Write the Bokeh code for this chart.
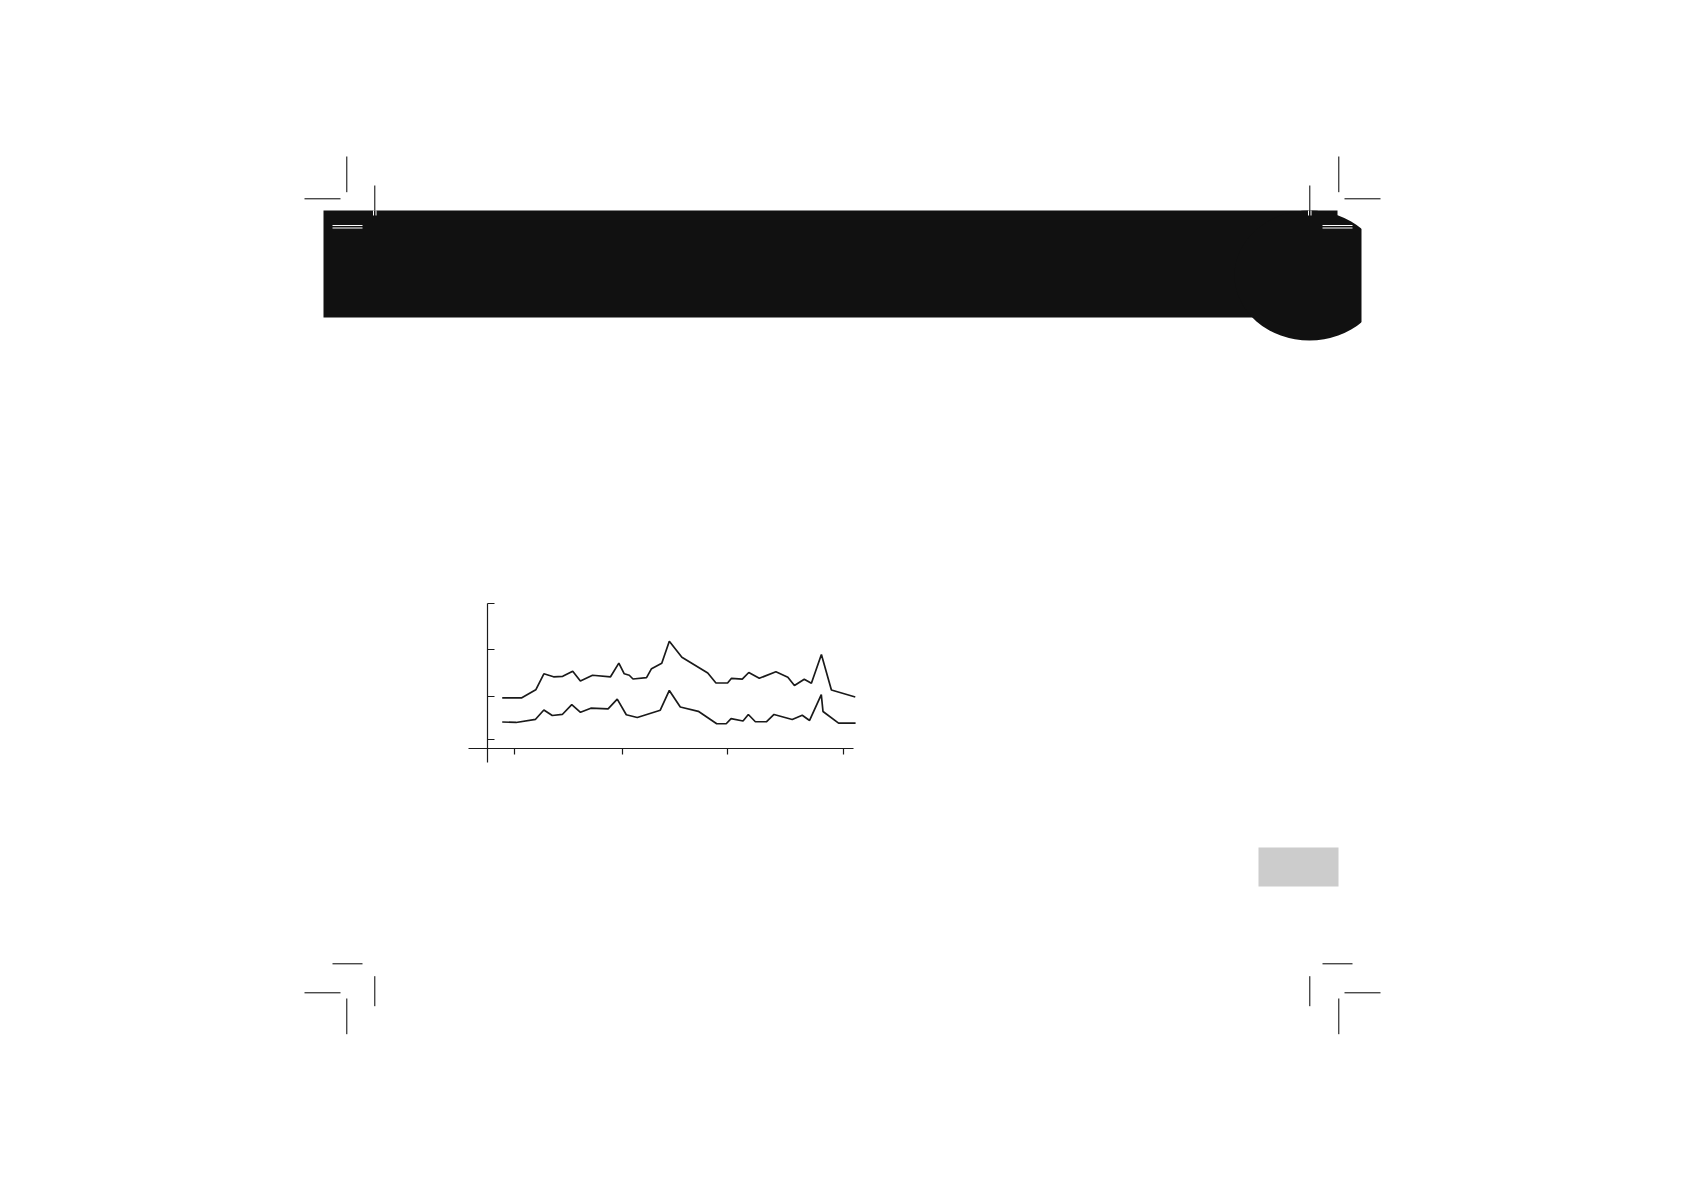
from bokeh.plotting import figure
from bokeh.models import Range1d, LinearAxis, FixedTicker, CustomJSTickFormatter
from bokeh.embed import file_html
from bokeh.resources import INLINE

# DATA
x_ticks = [2.5, 12.6, 22.5, 33.4]
y_ticks = [1.9, 11.2, 21.3, 31.2]

upper_x = [1.35, 3.19, 4.50, 5.26, 6.17, 7.03, 7.97, 8.69, 9.83, 11.52, 12.30, 12.81,
           13.28, 13.63, 14.90, 15.37, 16.33, 17.04, 18.22, 20.65, 21.42, 22.51, 22.88,
           23.89, 24.50, 25.49, 27.05, 28.17, 28.79, 29.71, 30.38, 31.32, 32.26, 34.50]
upper_y = [10.97, 10.97, 12.69, 16.13, 15.48, 15.59, 16.69, 14.58, 15.81, 15.48, 18.41, 16.13,
           15.81, 15.01, 15.29, 17.23, 18.39, 23.14, 19.70, 16.30, 14.15, 14.15, 15.16,
           14.97, 16.41, 15.16, 16.56, 15.40, 13.61, 14.97, 14.11, 20.28, 12.65, 11.14]

lower_x = [1.35, 2.65, 4.48, 5.26, 6.05, 6.99, 7.88, 8.70, 9.67, 11.29, 12.15, 13.00,
           14.03, 16.19, 17.04, 18.07, 19.76, 21.49, 22.38, 22.84, 23.96, 24.46, 25.12,
           26.15, 26.87, 28.58, 29.52, 30.21, 31.31, 31.47, 32.93, 34.53]
lower_y = [5.76, 5.66, 6.34, 8.34, 7.16, 7.38, 9.48, 7.85, 8.73, 8.60, 10.67, 7.33,
           6.73, 8.30, 12.54, 8.99, 8.06, 5.38, 5.38, 6.47, 5.98, 7.38, 5.81,
           5.81, 7.38, 6.30, 7.20, 6.09, 11.63, 8.02, 5.51, 5.51]

INK = '#1a1a1a'

# PAGE: the chart sits on a printed page, drawn in one figure
p = figure(
    width=1668,
    height=1174,
    x_range=Range1d(-45.76, 110.86),
    y_range=Range1d(-91.55, 160.92),
    x_axis_type=None,
    y_axis_type=None,
    output_backend='svg',
    toolbar_location=None,
    min_border=0,
)
p.outline_line_color = None
p.background_fill_color = 'white'
p.border_fill_color = 'white'
p.grid.visible = False

# page coordinates (px of the printed sheet) for the furniture
p.extra_x_ranges = {'page': Range1d(0, 1668)}
p.extra_y_ranges = {'page': Range1d(1174, 0)}
pg = dict(x_range_name='page', y_range_name='page')

# header band with the round tab on the right
p.quad(left=323, right=1337, top=210, bottom=317, fill_color='#111111', line_color=None, **pg)
p.ellipse(x=1309, y=275, width=150, height=130, fill_color='#111111', line_color=None, **pg)
p.quad(left=1361, right=1420, top=204, bottom=350, fill_color='white', line_color=None, **pg)

# crop / registration marks
p.segment(
    x0=[346.3, 304, 374.3, 1338.3, 1344, 1309.3, 332, 374.3, 304, 346.3, 1322, 1309.3, 1344, 1338.3],
    y0=[156, 198.3, 185, 156, 198.3, 185, 963.3, 975.7, 992.3, 998, 963.3, 975.7, 992.3, 998],
    x1=[346.3, 340, 374.3, 1338.3, 1380, 1309.3, 362, 374.3, 340, 346.3, 1352, 1309.3, 1380, 1338.3],
    y1=[191.7, 198.3, 210, 191.7, 198.3, 210, 963.3, 1005.7, 992.3, 1033.7, 963.3, 1005.7, 992.3, 1033.7],
    line_color='black', line_width=1, **pg
)
p.segment(
    x0=[332, 332, 1322, 1322, 373, 375.5, 1308, 1310.5],
    y0=[225, 227.5, 225, 227.5, 210, 210, 210, 210],
    x1=[362, 362, 1352, 1352, 373, 375.5, 1308, 1310.5],
    y1=[225, 227.5, 225, 227.5, 215, 215, 215, 215],
    line_color='white', line_width=1, **pg
)

# grey page-number box
p.quad(left=1258, right=1338, top=847, bottom=886, fill_color='#cccccc', line_color=None, **pg)

# THE CHART
p.line(upper_x, upper_y, line_color=INK, line_width=1.7)
p.line(lower_x, lower_y, line_color=INK, line_width=1.7)

blank = CustomJSTickFormatter(code="return ''")

yaxis = LinearAxis(fixed_location=0, bounds=(-3.0, 31.2), ticker=FixedTicker(ticks=y_ticks), formatter=blank)
yaxis.major_tick_in = 7
yaxis.major_tick_out = 0
yaxis.minor_tick_line_color = None
yaxis.axis_line_color = INK
yaxis.major_tick_line_color = INK
yaxis.axis_line_width = 1.2
yaxis.major_tick_line_width = 1.2
p.add_layout(yaxis, 'left')

xaxis = LinearAxis(fixed_location=0, bounds=(-1.8, 34.3), ticker=FixedTicker(ticks=x_ticks), formatter=blank)
xaxis.major_tick_in = 0
xaxis.major_tick_out = 6
xaxis.minor_tick_line_color = None
xaxis.axis_line_color = INK
xaxis.major_tick_line_color = INK
xaxis.axis_line_width = 1.2
xaxis.major_tick_line_width = 1.2
p.add_layout(xaxis, 'below')

open("out.html", "w").write(file_html(p, INLINE))
